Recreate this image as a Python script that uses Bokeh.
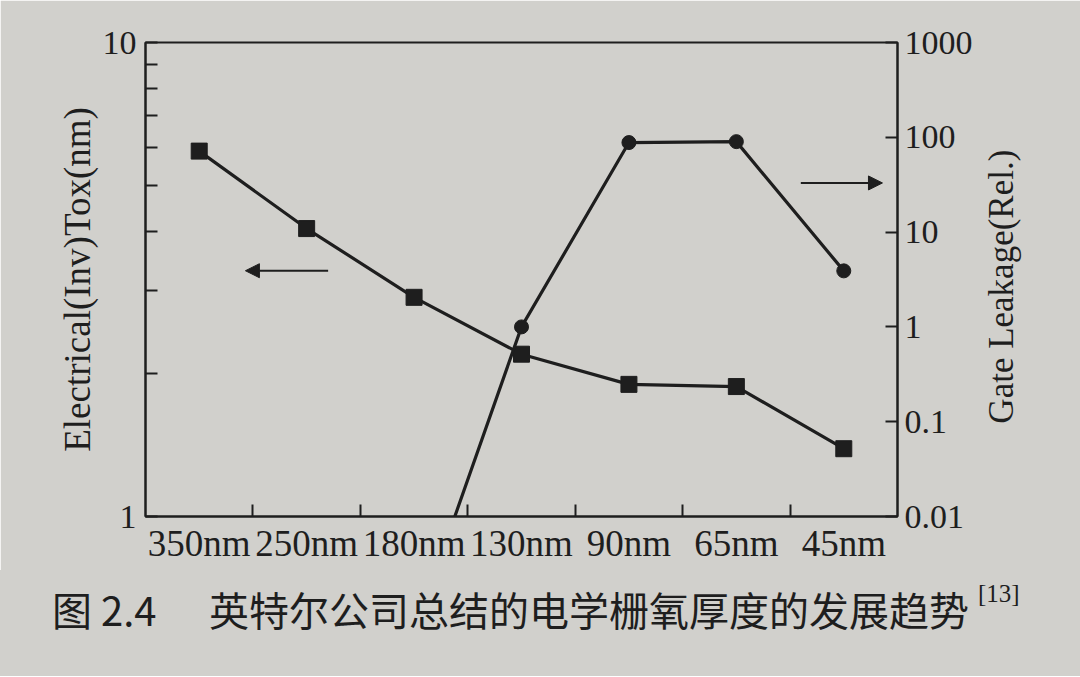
import math
from bokeh.plotting import figure
from bokeh.layouts import column
from bokeh.models import (Range1d, LogScale, LogAxis, FixedTicker, CustomJSTickFormatter,
                          Arrow, NormalHead, Div)
from bokeh.embed import file_html
from bokeh.resources import INLINE

# ---- data ----
nodes = ["350nm", "250nm", "180nm", "130nm", "90nm", "65nm", "45nm"]
tox_nm = [5.9, 4.05, 2.9, 2.2, 1.9, 1.88, 1.39]
leak_nodes = ["180nm", "130nm", "90nm", "65nm", "45nm"]
leak_rel = [0.0006, 1.0, 88, 90, 3.9]
left_ticks = [1, 10]
left_minor = [2, 3, 4, 5, 6, 7, 8, 9]
right_ticks = [0.01, 0.1, 1, 10, 100, 1000]

left_title = "Electrical(Inv)Tox(nm)"
right_title = "Gate Leakage(Rel.)"
fig_no = "图 2.4"
caption = "英特尔公司总结的电学栅氧厚度的发展趋势"
ref_mark = "[13]"

x_tox = [nodes.index(n) + 0.5 for n in nodes]
x_leak = [nodes.index(n) + 0.5 for n in leak_nodes]

BG = "#d1d0cc"
INK = "#1e1e1e"
SERIF = "Liberation Serif"
CJK = "Noto Sans CJK SC"

W = 1080
H_MAIN = 570
H_CAP = 106

p = figure(width=W, height=H_MAIN, output_backend="svg", toolbar_location=None,
           x_range=Range1d(0, len(nodes)), y_range=Range1d(1, 10),
           y_axis_type="log", x_axis_type="linear",
           min_border_left=145, min_border_right=183, min_border_top=42, min_border_bottom=54)

p.background_fill_color = BG
p.border_fill_color = BG
p.outline_line_color = INK
p.outline_line_width = 2
p.xgrid.visible = False
p.ygrid.visible = False

# bottom axis: labels at category centres, tick marks at category boundaries
xa = p.xaxis[0]
xa.ticker = FixedTicker(ticks=x_tox, minor_ticks=[i for i in range(1, len(nodes))])
xa.formatter = CustomJSTickFormatter(args=dict(labels=nodes),
                                     code="return labels[Math.floor(tick)] || ''")
xa.major_tick_line_color = None
xa.minor_tick_in = 12
xa.minor_tick_out = 0
xa.minor_tick_line_width = 2
xa.minor_tick_line_color = INK
xa.axis_line_width = 2
xa.axis_line_color = INK
xa.major_label_text_font = SERIF
xa.major_label_text_font_size = "37px"
xa.major_label_text_color = INK
xa.major_label_standoff = 0

# left axis
ya = p.yaxis[0]
ya.ticker = FixedTicker(ticks=left_ticks, minor_ticks=left_minor)
ya.formatter = CustomJSTickFormatter(code="return String(tick)")
ya.major_tick_in = 12
ya.major_tick_out = 0
ya.minor_tick_in = 12
ya.minor_tick_out = 0
ya.major_tick_line_width = 2
ya.minor_tick_line_width = 2
ya.major_tick_line_color = INK
ya.minor_tick_line_color = INK
ya.axis_line_width = 2
ya.axis_line_color = INK
ya.major_label_text_font = SERIF
ya.major_label_text_font_size = "34px"
ya.major_label_text_color = INK
ya.major_label_standoff = 9
ya.axis_label = left_title
ya.axis_label_text_font = SERIF
ya.axis_label_text_font_style = "normal"
ya.axis_label_text_font_size = "37px"
ya.axis_label_text_color = INK
ya.axis_label_standoff = 2

# right axis (leakage, log 0.01 .. 1000)
p.extra_y_ranges = {"leak": Range1d(0.01, 1000)}
p.extra_y_scales = {"leak": LogScale()}
ra = LogAxis(y_range_name="leak")
ra.ticker = FixedTicker(ticks=right_ticks)
ra.formatter = CustomJSTickFormatter(code="return String(tick)")
ra.major_tick_in = 12
ra.major_tick_out = 0
ra.major_tick_line_width = 2
ra.major_tick_line_color = INK
ra.minor_tick_line_color = None
ra.axis_line_width = 2
ra.axis_line_color = INK
ra.major_label_text_font = SERIF
ra.major_label_text_font_size = "34px"
ra.major_label_text_color = INK
ra.major_label_standoff = 7
p.add_layout(ra, "right")

# right-hand title, written bottom-to-top: a bare axis whose single label is the title
rt = LogAxis()
rt.ticker = FixedTicker(ticks=[1.57])
rt.formatter = CustomJSTickFormatter(args=dict(t=right_title), code="return t")
rt.major_label_orientation = math.pi / 2
rt.axis_line_color = None
rt.major_tick_line_color = None
rt.minor_tick_line_color = None
rt.major_label_text_font = SERIF
rt.major_label_text_font_size = "35px"
rt.major_label_text_color = INK
rt.major_label_standoff = 20
p.add_layout(rt, "right")

# series
p.line(x_tox, tox_nm, line_width=3.2, line_color=INK)
p.scatter(x_tox, tox_nm, marker="square", size=16, fill_color=INK, line_color=INK)
p.line(x_leak, leak_rel, line_width=3.2, line_color=INK, y_range_name="leak")
p.scatter(x_leak, leak_rel, marker="circle", size=14, fill_color=INK, line_color=INK,
          y_range_name="leak")

# direction arrows
p.add_layout(Arrow(end=NormalHead(size=14, fill_color=INK, line_color=INK),
                   x_start=1.70, y_start=3.3, x_end=0.93, y_end=3.3,
                   line_width=2, line_color=INK))
p.add_layout(Arrow(end=NormalHead(size=14, fill_color=INK, line_color=INK),
                   x_start=6.10, y_start=33, x_end=6.86, y_end=33,
                   line_width=2, line_color=INK, y_range_name="leak"))

# caption below the chart
span = "position:absolute;white-space:nowrap;line-height:1;color:%s;" % INK
cap_html = (
    f'<div style="position:relative;width:{W}px;height:{H_CAP}px;background:{BG};margin:0;">'
    f'<span style="{span}left:52px;top:19px;font-family:\'{CJK}\';font-size:40px;">{fig_no}</span>'
    f'<span style="{span}left:209px;top:19px;font-family:\'{CJK}\';font-size:40px;">{caption}</span>'
    f'<span style="{span}left:978px;top:11px;font-family:\'{SERIF}\';font-size:25px;">{ref_mark}</span>'
    '</div>'
)
cap = Div(text=cap_html, width=W, height=H_CAP, margin=0,
          styles={"background-color": BG, "padding": "0", "margin": "0"})

layout = column(p, cap, spacing=0)
open("out.html", "w").write(file_html(layout, INLINE))
